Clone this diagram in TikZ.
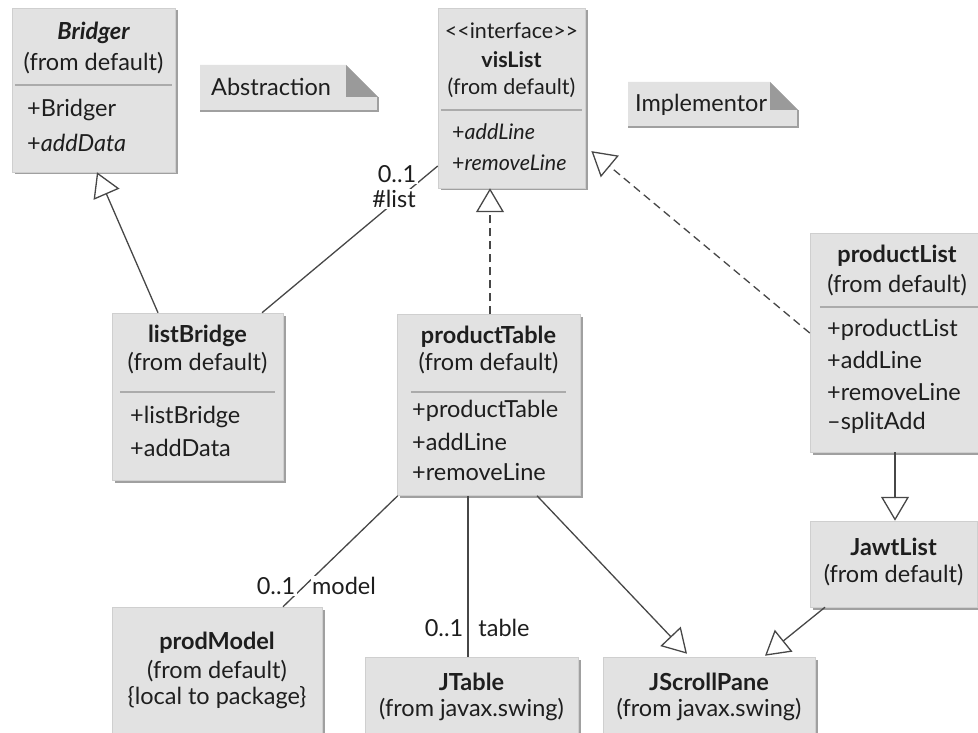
\documentclass[tikz,border=0pt]{standalone}
\usepackage{fontspec}
\setmainfont{Lato}
\usetikzlibrary{arrows.meta,shadows}
\definecolor{boxfill}{HTML}{E2E2E2}
\definecolor{boxedge}{HTML}{CFCFCF}
\definecolor{boxshadow}{HTML}{A0A0A0}
\definecolor{divcol}{HTML}{ABABAB}
\definecolor{linecol}{HTML}{474747}
\definecolor{textcol}{HTML}{1E1E1E}
\definecolor{foldcol}{HTML}{9A9A9A}
\begin{document}
\begin{tikzpicture}[x=1pt,y=-1pt,
  every node/.style={text=textcol, inner sep=0pt, font=\fontsize{23.5}{28}\selectfont},
  classbox/.style={fill=boxfill, draw=boxedge, line width=0.5pt,
    drop shadow={shadow xshift=2.5pt, shadow yshift=-2.5pt, fill=boxshadow, opacity=1}},
  cname/.style={font=\fontsize{23.5}{28}\selectfont\bfseries},
  ctext/.style={},
  member/.style={anchor=west},
  smallname/.style={font=\fontsize{21.5}{26}\selectfont\bfseries},
  smalltext/.style={font=\fontsize{21.5}{26}\selectfont},
  divider/.style={draw=divcol, line width=1.4pt},
  conn/.style={draw=linecol, line width=1.3pt},
  gen/.style={conn, -{Triangle[open, length=24pt, width=28pt, fill=white, line width=1.3pt]}},
  real/.style={gen, dash pattern=on 8pt off 5pt},
  role/.style={fill=white, inner sep=1.5pt},
  notebody/.style={fill=boxfill},
  noteedge/.style={draw=boxshadow, line width=2pt},
  notefold/.style={fill=foldcol}
]
\useasboundingbox (0,0) rectangle (978,733);

% ---------- class boxes ----------
\node[classbox, minimum width=163pt, minimum height=164pt] (bridger) at (93.5,90) {};
\node[cname] (bridger-t) at (93.5,33) {\itshape Bridger};
\node[ctext] (bridger-f) at (93.5,63) {(from default)};
\draw[divider] ([xshift=3pt]bridger.west |- 0,85) -- ([xshift=-3pt]bridger.east |- 0,85);
\node[member] (bridger-m1) at (27,110) {+Bridger};
\node[member] (bridger-m2) at (27,143) {+\textit{addData}};

\node[classbox, minimum width=147pt, minimum height=180pt] (vislist) at (511.5,98) {};
\node[smalltext] (vislist-s) at (511.5,31) {<\kern0pt<interface>\kern0pt>};
\node[smallname] (vislist-t) at (511.5,60) {visList};
\node[smalltext] (vislist-f) at (511.5,88) {(from default)};
\draw[divider] ([xshift=3pt]vislist.west |- 0,110) -- ([xshift=-3pt]vislist.east |- 0,110);
\node[member, smalltext] (vislist-m1) at (452,132) {+\textit{addLine}};
\node[member, smalltext] (vislist-m2) at (452,163) {+\textit{removeLine}};

\node[classbox, minimum width=171pt, minimum height=167pt] (listbridge) at (197.5,396.5) {};
\node[cname] (listbridge-t) at (197.5,336) {listBridge};
\node[ctext] (listbridge-f) at (197.5,363) {(from default)};
\draw[divider] ([xshift=8pt]listbridge.west |- 0,392) -- ([xshift=-8pt]listbridge.east |- 0,392);
\node[member] (listbridge-m1) at (130,417) {+listBridge};
\node[member] (listbridge-m2) at (130,448) {+addData};

\node[classbox, minimum width=183pt, minimum height=181pt] (producttable) at (488.5,405) {};
\node[cname] (producttable-t) at (488.5,337) {productTable};
\node[ctext] (producttable-f) at (488.5,363) {(from default)};
\draw[divider] ([xshift=14pt]producttable.west |- 0,392) -- ([xshift=-14pt]producttable.east |- 0,392);
\node[member] (producttable-m1) at (412,411) {+productTable};
\node[member] (producttable-m2) at (412,442) {+addLine};
\node[member] (producttable-m3) at (412,472) {+removeLine};

\node[classbox, minimum width=172pt, minimum height=219pt] (productlist) at (896,342.5) {};
\node[cname] (productlist-t) at (897,256) {productList};
\node[ctext] (productlist-f) at (897,285) {(from default)};
\draw[divider] ([xshift=10pt]productlist.west |- 0,307) -- ([xshift=-3pt]productlist.east |- 0,307);
\node[member] (productlist-m1) at (827,330) {+productList};
\node[member] (productlist-m2) at (827,360) {+addLine};
\node[member] (productlist-m3) at (827,392) {+removeLine};
\node[member] (productlist-m4) at (827,423) {–splitAdd};

\node[classbox, minimum width=167pt, minimum height=86pt] (jawtlist) at (893.5,564) {};
\node[cname] (jawtlist-t) at (893.5,547) {JawtList};
\node[ctext] (jawtlist-f) at (893.5,575) {(from default)};

\node[classbox, minimum width=212pt, minimum height=83pt] (jscrollpane) at (709,698.5) {};
\node[cname] (jscrollpane-t) at (709,682) {JScrollPane};
\node[ctext] (jscrollpane-f) at (709,710) {(from javax.swing)};

\node[classbox, minimum width=213pt, minimum height=79pt] (jtable) at (471.5,696.5) {};
\node[cname] (jtable-t) at (471.5,682) {JTable};
\node[ctext] (jtable-f) at (471.5,710) {(from javax.swing)};

\node[classbox, minimum width=210pt, minimum height=129pt] (prodmodel) at (217,671.5) {};
\node[cname] (prodmodel-t) at (217,643) {prodModel};
\node[ctext] (prodmodel-f) at (217,671) {(from default)};
\node[ctext] (prodmodel-p) at (217,698) {\{local to package\}};

% ---------- notes with folded corner ----------
\fill[notebody] (200,65) -- (346,65) -- (378,97) -- (378,111) -- (200,111) -- cycle;
\draw[noteedge] (200,111) -- (378,111) -- (378,97);
\fill[notefold] (346,65) -- (346,97) -- (378,97) -- cycle;
\node[anchor=west] (abstraction) at (211,87) {Abstraction};

\fill[notebody] (628,82) -- (770,82) -- (798,110) -- (798,127) -- (628,127) -- cycle;
\draw[noteedge] (628,127) -- (798,127) -- (798,110);
\fill[notefold] (770,82) -- (770,110) -- (798,110) -- cycle;
\node[anchor=west] (implementor) at (635,105) {Implementor};

% ---------- connectors ----------
\draw[gen] ([xshift=-39.5pt]listbridge.north) -- ([xshift=3.5pt]bridger.south);
\draw[conn] ([xshift=64.5pt]listbridge.north) -- ([yshift=-68pt]vislist.west);
\node[role] (lbl-list-m) at (397,174) {0..1};
\node[role] (lbl-list-r) at (394,199) {\#list};

\draw[real] ([xshift=1.5pt]producttable.north) -- ([xshift=-21.5pt]vislist.south);
\draw[real, shorten >=8pt] ([yshift=9.5pt]productlist.west) -- ([yshift=-48pt]vislist.east);

\draw[conn] ([xshift=1pt]producttable.south west) -- ([xshift=66pt]prodmodel.north);
\node[role] (lbl-model-m) at (276,586) {0..1};
\node[role] (lbl-model-r) at (344,586) {model};

\draw[conn] ([xshift=-20.5pt]producttable.south) -- ([xshift=-3.5pt]jtable.north);
\node (lbl-table-m) at (444,628) {0..1};
\node (lbl-table-r) at (504,628) {table};

\draw[gen] ([xshift=48.5pt]producttable.south) -- ([xshift=-22pt, yshift=3pt]jscrollpane.north);
\draw[gen] ([xshift=-1pt]productlist.south) -- ([xshift=1.5pt]jawtlist.north);
\draw[gen] ([xshift=-68.5pt]jawtlist.south) -- ([xshift=56pt, yshift=1pt]jscrollpane.north);
\end{tikzpicture}
\end{document}
